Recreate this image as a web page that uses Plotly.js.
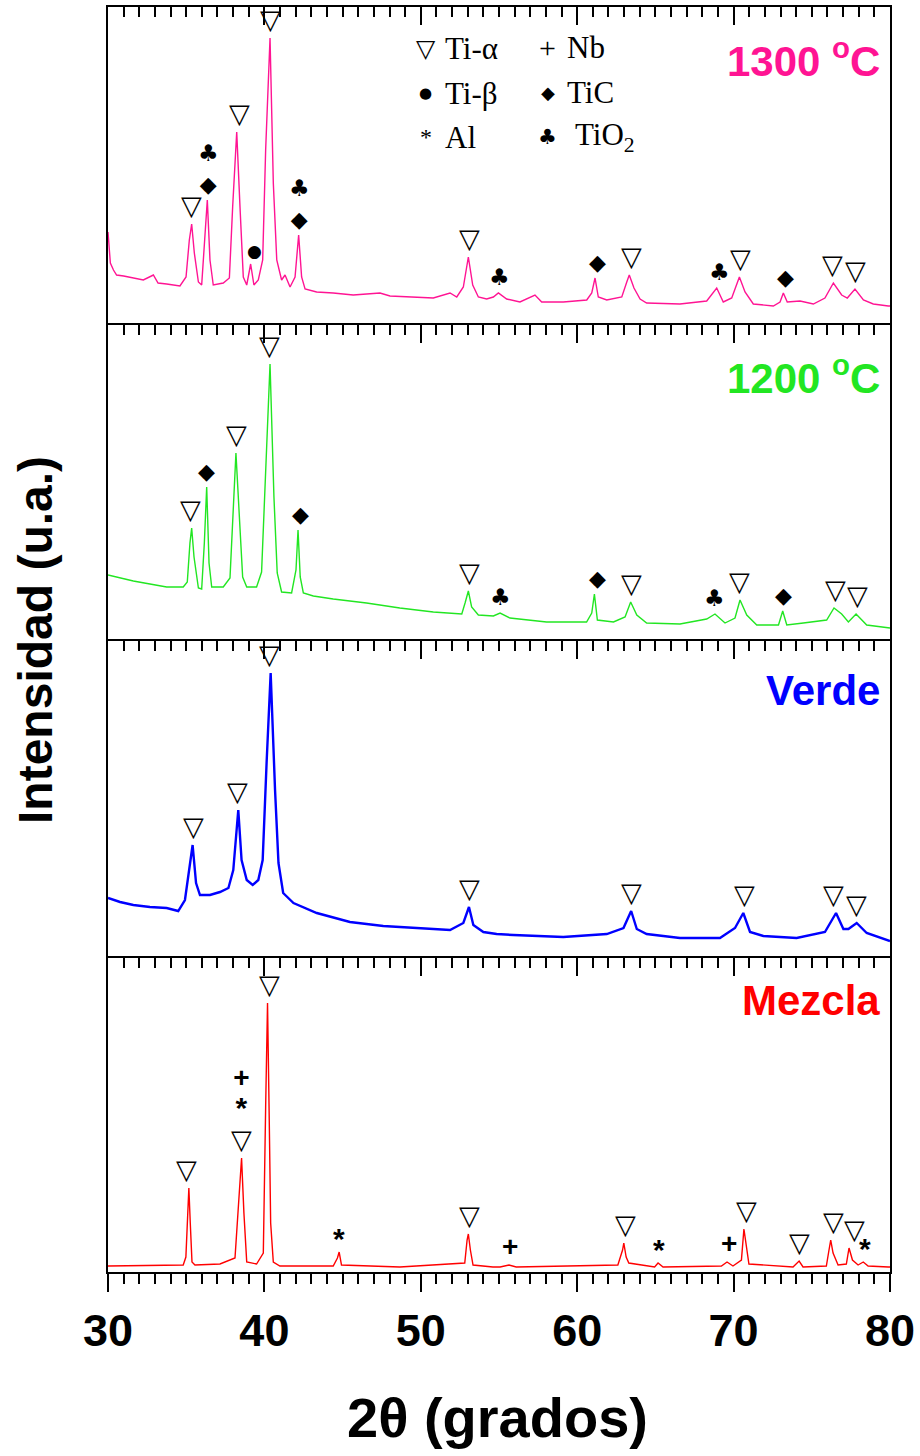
<!DOCTYPE html>
<html>
<head>
<meta charset="utf-8">
<script src="https://cdn.plot.ly/plotly-3.0.1.min.js"></script>
<style>html,body{margin:0;padding:0;background:#fff}#chart{width:920px;height:1456px}</style>
</head>
<body>
<div id="chart"></div>
<script>
// ---------------- DATA (2θ in degrees, intensity in arbitrary units) ----------------
const x1300 = [30.0, 30.15, 30.35, 30.55, 31.0, 31.62, 32.26, 32.9, 33.2, 33.75,
  34.2, 34.6, 34.99, 35.2, 35.35, 35.52, 35.78, 35.99, 36.18, 36.35,
  36.52, 36.73, 37.37, 37.76, 37.97, 38.23, 38.44, 38.65, 38.87, 39.12,
  39.33, 39.61, 39.89, 40.08, 40.36, 40.57, 40.79, 41.1, 41.32, 41.64,
  41.96, 42.19, 42.38, 42.6, 43.34, 44.4, 45.68, 47.39, 48.03, 49.74,
  50.8, 51.87, 52.3, 52.72, 53.04, 53.32, 53.68, 54.21, 54.64, 54.96,
  55.49, 56.34, 57.3, 57.73, 59.11, 60.61, 60.93, 61.14, 61.35, 61.89,
  62.85, 63.17, 63.33, 63.63, 64.02, 64.44, 66.57, 68.28, 68.92, 69.34,
  69.88, 70.37, 70.73, 71.26, 72.54, 72.97, 73.18, 73.43, 74.25, 75.1,
  75.84, 76.38, 76.91, 77.27, 77.76, 78.3, 78.93, 79.89, 80.0];
const y1300 = [93, 62, 55, 50, 49, 47, 45, 50, 42, 41,
  40, 39, 48, 85, 101, 72, 43, 40, 85, 125,
  65, 40, 42, 47, 118, 193, 118, 48, 40, 61,
  40, 45, 65, 175, 287, 142, 65, 45, 50, 38,
  48, 90, 48, 36, 33, 32, 30, 32, 29, 28,
  27, 32, 28, 38, 68, 40, 28, 26, 28, 32,
  26, 23, 30, 23, 23, 25, 32, 47, 28, 25,
  28, 43, 50, 37, 26, 22, 21, 24, 37, 23,
  27, 48, 33, 21, 19, 23, 32, 23, 24, 21,
  27, 42, 30, 27, 36, 25, 21, 19, 19];

const x1200 = [30.0, 30.55, 31.62, 32.68, 33.75, 34.81, 35.07, 35.24, 35.35, 35.5,
  35.78, 35.99, 36.16, 36.31, 36.46, 36.63, 37.37, 37.8, 37.97, 38.18,
  38.4, 38.61, 38.87, 39.5, 39.82, 40.08, 40.36, 40.61, 40.82, 41.1,
  41.74, 42.02, 42.15, 42.29, 42.49, 43.13, 44.4, 46.53, 48.66, 50.8,
  52.62, 52.83, 53.04, 53.25, 53.68, 54.64, 55.07, 55.7, 58.04, 60.6,
  60.93, 61.1, 61.29, 62.32, 63.06, 63.42, 63.81, 64.44, 66.57, 68.28,
  68.81, 69.45, 70.09, 70.41, 70.84, 71.48, 72.87, 73.14, 73.4, 74.46,
  75.95, 76.42, 76.91, 77.34, 77.83, 78.51, 79.89, 80.0];
const y1200 = [66, 64, 60, 57, 54, 54, 59, 98, 113, 84,
  53, 52, 98, 154, 78, 54, 54, 63, 114, 188,
  124, 64, 54, 54, 69, 164, 277, 144, 68, 49,
  48, 71, 111, 64, 48, 45, 42, 38, 33, 29,
  27, 38, 50, 34, 26, 25, 28, 23, 19, 19,
  28, 47, 21, 19, 24, 39, 26, 18, 17, 22,
  27, 18, 23, 41, 26, 16, 16, 30, 16, 18,
  21, 33, 27, 19, 27, 16, 13, 13];

const xVerde = [30.0, 30.77, 31.62, 32.68, 33.75, 34.49, 34.92, 35.2, 35.41, 35.63,
  35.88, 36.52, 37.16, 37.7, 38.01, 38.33, 38.54, 38.87, 39.25, 39.61,
  39.89, 40.14, 40.4, 40.68, 40.9, 41.2, 41.86, 43.35, 45.47, 47.6,
  49.74, 51.87, 52.72, 53.08, 53.36, 54.0, 54.85, 55.92, 59.11, 61.89,
  62.96, 63.45, 63.81, 64.44, 66.57, 69.13, 70.09, 70.62, 71.05, 71.9,
  74.03, 75.84, 76.55, 77.02, 77.34, 77.87, 78.51, 79.89, 80.0];
const yVerde = [60, 56, 53, 51, 50, 47, 58, 88, 113, 75,
  63, 63, 66, 70, 88, 148, 98, 78, 73, 78,
  98, 195, 285, 168, 95, 65, 55, 45, 36, 32,
  30, 28, 35, 51, 33, 26, 24, 23, 21, 24,
  30, 47, 29, 24, 20, 20, 30, 45, 26, 22,
  20, 26, 45, 29, 29, 35, 25, 17, 17];

const xMezcla = [30.0, 34.81, 34.98, 35.09, 35.17, 35.26, 35.37, 35.56, 37.16, 38.12,
  38.33, 38.54, 38.69, 38.87, 39.5, 39.93, 40.08, 40.2, 40.31, 40.4,
  40.57, 40.99, 44.4, 44.67, 44.78, 44.93, 48.66, 52.81, 52.96, 53.04,
  53.17, 53.34, 54.61, 55.07, 55.64, 56.1, 62.6, 62.9, 62.98, 63.13,
  63.3, 64.95, 65.17, 65.49, 69.22, 69.58, 69.96, 70.5, 70.66, 70.81,
  70.98, 73.8, 74.19, 74.44, 75.93, 76.1, 76.21, 76.36, 76.68, 77.21,
  77.38, 77.6, 77.96, 78.29, 78.6, 79.89, 80.0];
const yMezcla = [6, 7, 15, 65, 84, 49, 10, 7, 8, 14,
  65, 114, 59, 10, 8, 19, 165, 269, 152, 49,
  10, 6, 6, 14, 20, 7, 5, 9, 32, 38,
  22, 7, 5, 5, 7, 5, 7, 22, 29, 15,
  9, 5, 9, 5, 6, 10, 6, 12, 43, 24,
  8, 5, 11, 5, 6, 22, 32, 19, 7, 8,
  24, 12, 7, 10, 6, 5, 5];

// phase labels on peaks ('|' = stacked symbols)
const lab1300X = [35.35, 36.4, 38.4, 39.35, 40.4, 42.25, 53.1, 55.0, 61.3, 63.5, 69.1, 70.45, 73.3, 76.3, 77.8];
const lab1300S = ['▽', '♣|◆', '▽', '●', '▽', '♣|◆', '▽', '♣', '◆', '▽', '♣', '▽', '◆', '▽', '▽'];
const lab1200X = [35.3, 36.3, 38.2, 40.3, 42.3, 53.1, 55.1, 61.3, 63.45, 68.8, 70.4, 73.2, 76.5, 77.9];
const lab1200S = ['▽', '◆', '▽', '▽', '◆', '▽', '♣', '◆', '▽', '♣', '▽', '◆', '▽', '▽'];
const labVerdeX = [35.45, 38.3, 40.35, 53.1, 63.5, 70.7, 76.4, 77.85];
const labVerdeS = ['▽', '▽', '▽', '▽', '▽', '▽', '▽', '▽'];
const labMezclaX = [35.05, 38.55, 40.3, 44.8, 53.1, 55.7, 63.1, 65.2, 69.7, 70.8, 74.2, 76.4, 77.75, 78.4];
const labMezclaS = ['▽', '+|*|▽', '▽', '*', '▽', '+', '▽', '*', '+', '▽', '▽', '▽', '▽', '*'];

const panelNames = ['1300 <sup>o</sup>C', '1200 <sup>o</sup>C', 'Verde', 'Mezcla'];
const legendSymbols = ['▽', '●', '*', '+', '◆', '♣'];
const legendTexts = ['Ti-α', 'Ti-β', 'Al', 'Nb', 'TiC', 'TiO<sub>2</sub>'];
const xAxisTitle = '2θ (grados)';
const yAxisTitle = 'Intensidad (u.a.)';

// ---------------- STYLE / LAYOUT ----------------
const colors = ['#FF1493', '#22E622', '#0000FF', '#FF0000'];
const lineWidths = [1.4, 1.4, 2.4, 1.4];
const panelRanges = [318, 316, 317, 314];
const domains = [[0.74862, 1], [0.49881, 0.74862], [0.24822, 0.49881], [0, 0.24822]];
const nameY = [267, 266, 268, 272];
const symSize = {'▽': 27, '◆': 22, '♣': 23, '●': 17, '*': 30, '+': 28};
const symShift = {'*': -6};

const series = [
  {x: x1300, y: y1300, lx: lab1300X, ls: lab1300S},
  {x: x1200, y: y1200, lx: lab1200X, ls: lab1200S},
  {x: xVerde, y: yVerde, lx: labVerdeX, ls: labVerdeS},
  {x: xMezcla, y: yMezcla, lx: labMezclaX, ls: labMezclaS}
];

function localMax(xs, ys, x0, w) {
  let m = -Infinity;
  for (let i = 0; i < xs.length; i++) if (Math.abs(xs[i] - x0) <= w && ys[i] > m) m = ys[i];
  return m;
}

const SANS = 'Liberation Sans, Arial, sans-serif';
const SERIF = 'Liberation Serif, Times New Roman, serif';
const SYM = 'DejaVu Sans, sans-serif';

const traces = [];
const annotations = [];
const layout = {
  width: 920, height: 1456,
  margin: {l: 108, r: 30, t: 7, b: 184},
  paper_bgcolor: '#fff', plot_bgcolor: '#fff',
  showlegend: false,
  annotations: annotations
};

const baseLine = {showline: true, linecolor: '#000', linewidth: 2, showgrid: false, zeroline: false, fixedrange: true};
function topAxis(anchor) {
  return Object.assign({}, baseLine, {
    range: [30, 80], anchor: anchor, side: 'top', ticks: 'inside', ticklen: 18, tickwidth: 2, tickcolor: '#000',
    tick0: 30, dtick: 10, showticklabels: false,
    minor: {ticks: 'inside', ticklen: 10, tickwidth: 2, tickcolor: '#000', tick0: 30, dtick: 1}
  });
}

function symText(code) {
  return code.split('|').map(c => {
    const fam = (c === '*' || c === '+') ? 'Liberation Sans' : 'DejaVu Sans';
    return '<span style="font-size:' + symSize[c] + 'px;font-family:' + fam + '">' + c + '</span>';
  }).join('<br>');
}

series.forEach((s, i) => {
  const n = i + 1;
  const xa = n === 1 ? 'x' : 'x' + n;
  const ya = n === 1 ? 'y' : 'y' + n;
  traces.push({
    x: s.x, y: s.y, xaxis: xa, yaxis: ya, type: 'scatter', mode: 'lines',
    line: {color: colors[i], width: lineWidths[i]}, hoverinfo: 'skip'
  });
  layout['yaxis' + (n === 1 ? '' : n)] = Object.assign({}, baseLine, {
    domain: domains[i], range: [0, panelRanges[i]], mirror: true, ticks: '', showticklabels: false, anchor: xa
  });
  if (n < 4) {
    layout['xaxis' + (n === 1 ? '' : n)] = topAxis(ya);
  } else {
    layout['xaxis4'] = Object.assign({}, baseLine, {
      range: [30, 80], anchor: 'y4', side: 'bottom', ticks: 'outside', ticklen: 18, tickwidth: 2, tickcolor: '#000',
      tick0: 30, dtick: 10, showticklabels: true,
      tickfont: {family: SANS, size: 45, weight: 'bold', color: '#000'},
      minor: {ticks: 'outside', ticklen: 10, tickwidth: 2, tickcolor: '#000', tick0: 30, dtick: 1}
    });
    layout['xaxis5'] = Object.assign(topAxis('y4'), {overlaying: 'x4'});
    traces.push({x: [], y: [], xaxis: 'x5', yaxis: 'y4', type: 'scatter', mode: 'lines', hoverinfo: 'skip'});
  }
  // phase labels above peaks
  s.lx.forEach((lx, j) => {
    const yy = localMax(s.x, s.y, lx, 0.4);
    const code = s.ls[j];
    annotations.push({
      x: lx, y: yy, xref: xa, yref: ya, showarrow: false, yanchor: 'bottom',
      yshift: 1 + (symShift[code] || 0),
      text: symText(code),
      font: {family: SYM, size: 24, color: '#000', weight: 'bold'}
    });
  });
  // panel name
  annotations.push({
    x: 79.5, y: nameY[i], xref: xa, yref: ya, xanchor: 'right', yanchor: 'middle', showarrow: false,
    text: panelNames[i], font: {family: SANS, size: 42, weight: 'bold', color: colors[i]}
  });
});

// legend block inside the top panel
const legSymX = [50.33, 50.33, 50.33, 58.13, 58.13, 58.13];
const legTxtX = [51.45, 51.45, 51.45, 59.2, 59.2, 59.7];
const legY = [277, 232, 188, 278, 233, 188];
const legSymSize = [25, 15, 24, 30, 18, 21];
legendSymbols.forEach((sym, k) => {
  annotations.push({
    x: legSymX[k], y: legY[k], xref: 'x', yref: 'y', showarrow: false, xanchor: 'center', yanchor: 'middle',
    text: sym, font: {family: (sym === '*' || sym === '+') ? SERIF : SYM, size: legSymSize[k], color: '#000'}
  });
  annotations.push({
    x: legTxtX[k], y: legY[k], xref: 'x', yref: 'y', showarrow: false, xanchor: 'left', yanchor: 'middle',
    text: legendTexts[k], font: {family: SERIF, size: 31, color: '#000'}
  });
});

// axis titles
annotations.push({
  x: 0.4987, y: -0.1154, xref: 'paper', yref: 'paper', showarrow: false, xanchor: 'center', yanchor: 'middle',
  text: xAxisTitle, font: {family: SANS, size: 56, weight: 'bold', color: '#000'}
});
annotations.push({
  x: -0.0934, y: 0.4996, xref: 'paper', yref: 'paper', showarrow: false, xanchor: 'center', yanchor: 'middle',
  textangle: -90, text: yAxisTitle, font: {family: SANS, size: 48, weight: 'bold', color: '#000'}
});

Plotly.newPlot('chart', traces, layout, {staticPlot: true, displayModeBar: false});
</script>
</body>
</html>
